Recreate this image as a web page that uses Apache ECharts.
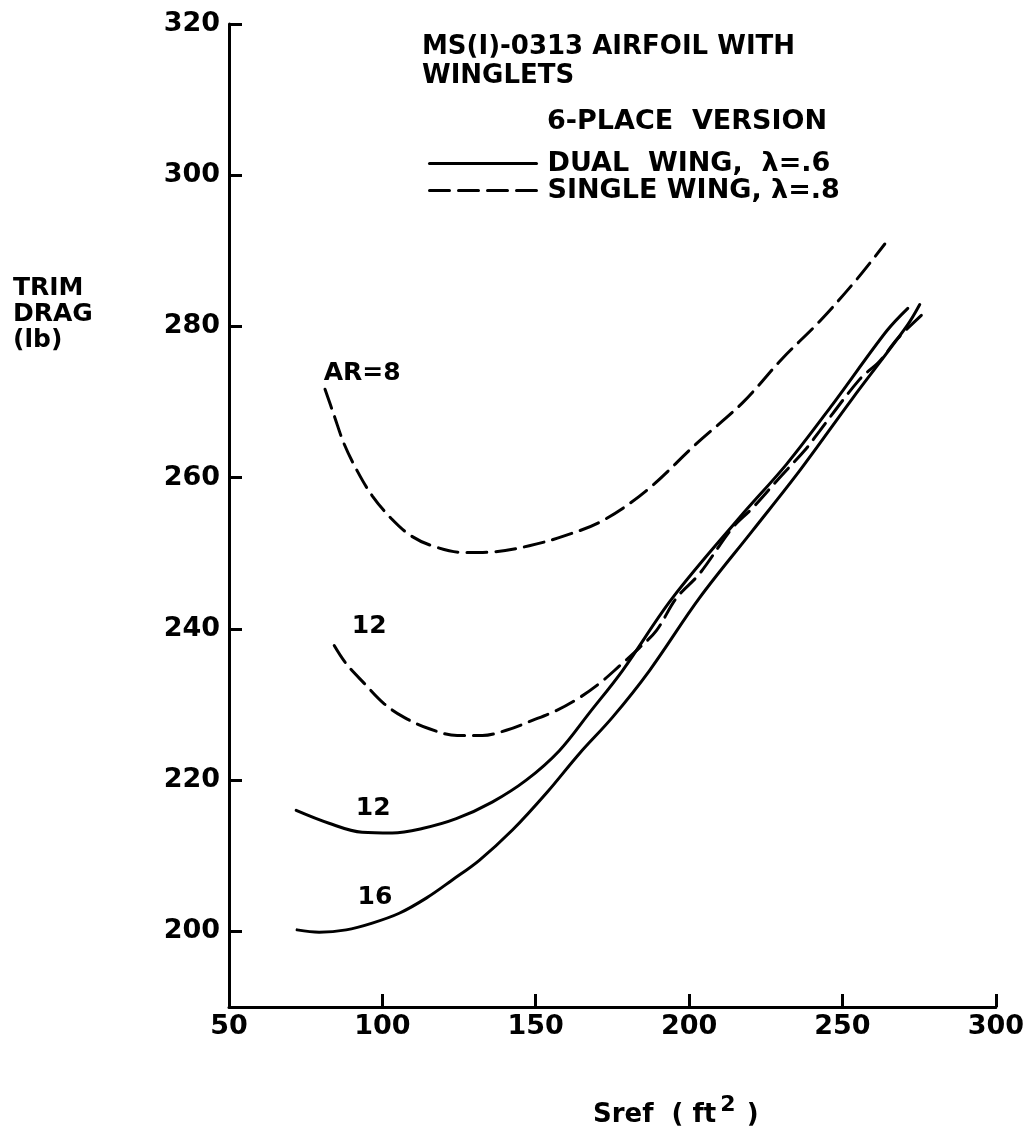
<!DOCTYPE html>
<html>
<head>
<meta charset="utf-8">
<script src="https://cdn.jsdelivr.net/npm/echarts@6/dist/echarts.min.js"></script>
<style>
html,body{margin:0;padding:0;background:#ffffff;}
#chart{width:1027px;height:1135px;}
</style>
</head>
<body>
<div id="chart"></div>
<script>
// ---- tick labels ----
const xTickValues = [50, 100, 150, 200, 250, 300];
const yTickValues = [200, 220, 240, 260, 280, 300, 320];

// ---- series names (legend) ----
const dualName = 'DUAL  WING,  \u03BB=.6';
const singleName = 'SINGLE WING, \u03BB=.8';

// ---- single wing, AR = 8 (dashed) : [Sref, trim drag] ----
const singleAR8 = [
  [81.3, 271.7], [84.3, 268.2], [87.5, 264.5], [91.8, 260.9], [96.7, 257.6],
  [102.9, 254.6], [109.4, 252.3], [116.9, 250.9], [126.7, 250.1], [136.5, 250.2],
  [147.9, 251.0], [159.3, 252.3], [171.7, 254.3], [186.1, 258.3], [202.4, 264.5],
  [217.4, 269.9], [230.5, 275.8], [242.6, 280.7], [254.6, 286.2], [263.8, 290.9]
];

// ---- single wing, AR = 12 (dashed) ----
const singleAR12 = [
  [84.3, 237.8], [88.2, 235.4], [94.1, 232.8], [100.6, 230.1], [107.1, 228.3],
  [115.3, 226.8], [124.4, 225.9], [132.6, 225.9], [140.4, 226.6], [148.9, 227.9],
  [156.7, 229.2], [164.2, 230.9], [170.8, 232.8], [177.3, 235.1], [183.8, 237.5],
  [189.4, 239.8], [195.9, 244.1], [203.4, 247.3], [214.2, 253.4], [220.7, 256.0],
  [229.5, 260.0], [238.3, 263.9], [242.6, 266.2], [255.6, 273.0], [262.1, 275.4],
  [268.0, 278.4], [275.8, 281.5]
];

// ---- dual wing, AR = 12 (solid) ----
const dualAR12 = [
  [71.9, 216.0], [82.6, 214.3], [93.4, 213.1], [103.2, 213.0], [113.0, 213.6],
  [124.1, 214.9], [135.8, 217.1], [146.9, 220.0], [157.7, 223.9], [167.5, 228.9],
  [178.3, 234.5], [194.6, 244.1], [216.4, 254.7], [231.8, 261.8], [246.8, 269.7],
  [264.4, 279.4], [271.3, 282.4]
];

// ---- dual wing, AR = 16 (solid) ----
const dualAR16 = [
  [72.2, 200.2], [79.4, 199.9], [88.2, 200.2], [96.7, 201.1], [105.5, 202.4],
  [114.3, 204.4], [122.8, 206.8], [131.6, 209.4], [142.4, 213.4], [153.5, 218.3],
  [164.2, 223.5], [175.0, 228.3], [187.1, 234.5], [203.4, 244.1], [220.7, 253.0],
  [236.0, 260.9], [253.3, 270.5], [270.9, 280.0], [275.2, 282.9]
];

// ---- curve annotations ----
const curveLabelText = ['AR=8', '12', '12', '16'];
const curveLabelX = [93.4, 95.7, 97.0, 97.6];
const curveLabelY = [273.8, 240.3, 216.3, 204.5];

const FONT = 'DejaVu Sans';
const INK = '#000000';

const chart = echarts.init(document.getElementById('chart'), null, {renderer: 'canvas'});

const labelData = curveLabelText.map((t, i) => [curveLabelX[i], curveLabelY[i], t]);

function lineSeries(name, data, dashed) {
  return {
    type: 'line',
    name: name,
    data: data,
    smooth: 0.35,
    symbol: 'none',
    showSymbol: false,
    silent: true,
    lineStyle: {
      color: INK,
      width: 3,
      type: dashed ? [20, 9] : 'solid',
      cap: 'round'
    },
    itemStyle: {color: INK},
    z: 3
  };
}

const option = {
  backgroundColor: '#ffffff',
  animation: false,
  textStyle: {fontFamily: FONT, color: INK},
  title: [
    {
      text: 'MS(I)-0313 AIRFOIL WITH\nWINGLETS',
      left: 417,
      top: 28,
      textStyle: {fontFamily: FONT, fontSize: 26, fontWeight: 'bold', color: INK, lineHeight: 29}
    },
    {
      text: '6-PLACE  VERSION',
      left: 542,
      top: 103,
      textStyle: {fontFamily: FONT, fontSize: 27, fontWeight: 'bold', color: INK, lineHeight: 28}
    }
  ],
  legend: {
    orient: 'vertical',
    left: 423,
    top: 145,
    itemGap: 0,
    itemWidth: 107,
    itemHeight: 14,
    selectedMode: false,
    data: [dualName, singleName],
    itemStyle: {opacity: 0, color: 'rgba(0,0,0,0)', borderWidth: 0},
    lineStyle: {width: 3, color: INK},
    textStyle: {fontFamily: FONT, fontSize: 27, fontWeight: 'bold', color: INK, lineHeight: 26, padding: [0, 0, 0, 6]}
  },
  grid: {left: 229, right: 31, top: 24, bottom: 128},
  xAxis: {
    type: 'value',
    min: 50,
    max: 300,
    interval: 50,
    axisLine: {show: true, lineStyle: {color: INK, width: 3}},
    axisTick: {show: true, inside: true, length: 13, lineStyle: {color: INK, width: 3}, customValues: xTickValues.slice(1)},
    axisLabel: {fontFamily: FONT, fontSize: 27, fontWeight: 'bold', color: INK, margin: 6, customValues: xTickValues},
    splitLine: {show: false}
  },
  yAxis: {
    type: 'value',
    min: 190,
    max: 320,
    axisLine: {show: true, lineStyle: {color: INK, width: 3}},
    axisTick: {show: true, inside: true, length: 13, lineStyle: {color: INK, width: 3}, customValues: yTickValues},
    axisLabel: {fontFamily: FONT, fontSize: 27, fontWeight: 'bold', color: INK, margin: 9, customValues: yTickValues},
    splitLine: {show: false}
  },
  graphic: [
    {
      type: 'text',
      left: 13,
      top: 275,
      style: {
        text: 'TRIM\nDRAG\n(lb)',
        fontFamily: FONT,
        fontSize: 25,
        fontWeight: 'bold',
        lineHeight: 26,
        fill: INK
      }
    },
    {
      type: 'text',
      left: 593,
      top: 1094,
      style: {
        text: '{m|Sref  ( ft}{s|2}{m| )}',
        fontFamily: FONT,
        fill: INK,
        rich: {
          m: {fontFamily: FONT, fontSize: 26, fontWeight: 'bold', color: INK, verticalAlign: 'bottom', lineHeight: 34},
          s: {fontFamily: FONT, fontSize: 22, fontWeight: 'bold', color: INK, verticalAlign: 'bottom', lineHeight: 34, padding: [0, 2, 12, 4]}
        }
      }
    }
  ],
  series: [
    lineSeries(dualName, dualAR12, false),
    lineSeries(dualName, dualAR16, false),
    lineSeries(singleName, singleAR8, true),
    lineSeries(singleName, singleAR12, true),
    {
      type: 'scatter',
      name: 'curve labels',
      data: labelData,
      symbolSize: 0,
      silent: true,
      itemStyle: {color: INK, opacity: 1},
      label: {
        show: true,
        position: 'inside',
        formatter: p => p.value[2],
        fontFamily: FONT,
        fontSize: 25,
        fontWeight: 'bold',
        color: INK,
        opacity: 1,
        textBorderWidth: 0
      },
      z: 4
    }
  ]
};

chart.setOption(option);
</script>
</body>
</html>
